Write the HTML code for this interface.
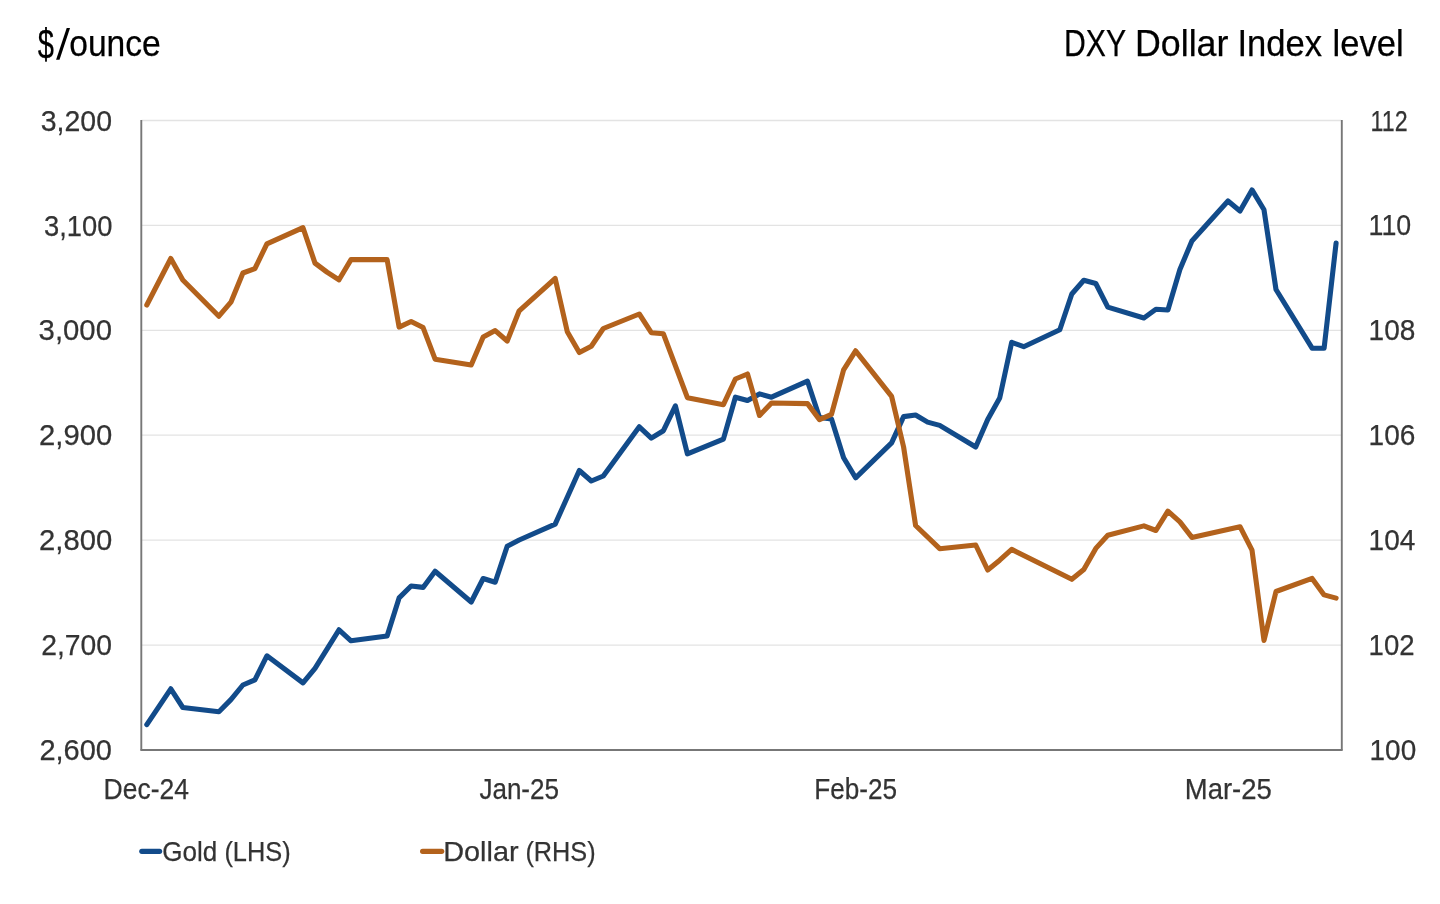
<!DOCTYPE html>
<html><head><meta charset="utf-8"><title>Gold vs Dollar</title>
<style>html,body{margin:0;padding:0;background:#fff;}body{width:1440px;height:904px;overflow:hidden;font-family:"Liberation Sans",sans-serif;}svg{display:block;will-change:transform;}</style>
</head><body>
<svg width="1440" height="904" viewBox="0 0 1440 904">
<rect width="1440" height="904" fill="#fff"/>
<line x1="141.5" y1="120.5" x2="1341" y2="120.5" stroke="#e3e3e3" stroke-width="1.3"/>
<line x1="141.5" y1="225.4" x2="1341" y2="225.4" stroke="#e3e3e3" stroke-width="1.3"/>
<line x1="141.5" y1="330.3" x2="1341" y2="330.3" stroke="#e3e3e3" stroke-width="1.3"/>
<line x1="141.5" y1="435.2" x2="1341" y2="435.2" stroke="#e3e3e3" stroke-width="1.3"/>
<line x1="141.5" y1="540.2" x2="1341" y2="540.2" stroke="#e3e3e3" stroke-width="1.3"/>
<line x1="141.5" y1="645.1" x2="1341" y2="645.1" stroke="#e3e3e3" stroke-width="1.3"/>
<line x1="141.3" y1="120" x2="141.3" y2="750.5" stroke="#777" stroke-width="1.9"/>
<line x1="1341.8" y1="120" x2="1341.8" y2="750.5" stroke="#777" stroke-width="1.9"/>
<line x1="140.5" y1="750" x2="1342.5" y2="750" stroke="#777" stroke-width="1.9"/>
<polyline fill="none" stroke="#124b8a" stroke-width="5.1" stroke-linejoin="round" stroke-linecap="round" points="146.8,724.6 170.8,688.8 182.8,707.5 218.9,711.7 230.9,699.6 242.9,685.0 254.9,679.8 266.9,655.8 303.0,682.9 315.0,668.3 339.0,629.8 351.0,640.8 387.1,636.0 399.1,597.9 411.1,586.0 423.1,587.4 435.1,571.2 471.2,602.0 483.2,578.5 495.2,582.2 507.2,546.2 519.2,540.0 555.2,524.1 579.3,470.5 591.3,481.0 603.3,476.0 639.3,426.8 651.3,438.1 663.4,430.7 675.4,405.8 687.4,453.9 723.4,439.1 735.4,397.2 747.5,400.5 759.5,393.9 771.5,397.2 807.5,381.2 819.5,417.5 831.5,419.0 843.6,457.8 855.6,477.8 891.6,442.9 903.6,416.6 915.6,415.0 927.6,422.1 939.7,425.4 975.7,447.0 987.7,419.6 999.7,398.0 1011.7,342.3 1023.7,346.7 1059.8,329.8 1071.8,294.0 1083.8,280.3 1095.8,283.5 1107.8,307.1 1143.9,318.0 1155.9,309.2 1167.9,310.0 1179.9,269.6 1191.9,241.0 1228.0,201.0 1240.0,211.0 1252.0,189.9 1264.0,209.8 1276.0,289.5 1312.1,348.2 1324.1,348.2 1336.1,243.0"/>
<polyline fill="none" stroke="#b3621c" stroke-width="5.1" stroke-linejoin="round" stroke-linecap="round" points="146.8,305.0 170.8,258.5 182.8,280.0 218.9,316.2 230.9,302.2 242.9,273.0 254.9,268.7 266.9,243.8 303.0,227.7 315.0,263.1 327.0,272.1 339.0,279.8 351.0,259.6 387.1,259.6 399.1,327.1 411.1,321.5 423.1,327.6 435.1,359.2 471.2,365.0 483.2,336.9 495.2,330.6 507.2,341.0 519.2,310.8 555.2,278.5 567.3,331.7 579.3,352.5 591.3,346.2 603.3,328.5 639.3,314.0 651.3,332.7 663.4,333.8 687.4,397.7 723.4,404.7 735.4,379.0 747.5,374.0 759.5,415.5 771.5,403.0 807.5,403.6 819.5,419.6 831.5,414.3 843.6,369.9 855.6,350.8 891.6,396.4 903.6,447.0 915.6,525.5 939.7,548.7 975.7,545.0 987.7,570.0 999.7,560.2 1011.7,549.4 1071.8,579.3 1083.8,569.5 1095.8,548.4 1107.8,535.2 1143.9,525.9 1155.9,530.5 1167.9,511.2 1179.9,521.9 1191.9,537.4 1240.0,526.7 1252.0,550.2 1264.0,640.4 1276.0,591.5 1312.1,578.4 1324.1,594.9 1336.1,598.1"/>
<line x1="141.8" y1="851.3" x2="159.6" y2="851.3" stroke="#124b8a" stroke-width="5.2" stroke-linecap="round"/>
<polygon points="56.1,59.7 59.5,59.7 70.05,28 66.7,28" fill="#000"/>
<line x1="422.6" y1="851.3" x2="441.7" y2="851.3" stroke="#b3621c" stroke-width="5.2" stroke-linecap="round"/>
<text x="37.80" y="58.8" font-family="Liberation Sans, sans-serif" font-size="43.2" fill="#000" stroke="#000" stroke-width="0.25" textLength="16.20" lengthAdjust="spacingAndGlyphs">$</text>
<text x="69.20" y="55.6" font-family="Liberation Sans, sans-serif" font-size="37" fill="#000" stroke="#000" stroke-width="0.25" textLength="91.60" lengthAdjust="spacingAndGlyphs">ounce</text>
<text x="1064.00" y="55.6" font-family="Liberation Sans, sans-serif" font-size="36.5" fill="#000" stroke="#000" stroke-width="0.25" textLength="62.00" lengthAdjust="spacingAndGlyphs">DXY</text>
<text x="1135.00" y="55.6" font-family="Liberation Sans, sans-serif" font-size="36.5" fill="#000" stroke="#000" stroke-width="0.25" textLength="93.40" lengthAdjust="spacingAndGlyphs">Dollar</text>
<text x="1237.40" y="55.6" font-family="Liberation Sans, sans-serif" font-size="36.5" fill="#000" stroke="#000" stroke-width="0.25" textLength="84.60" lengthAdjust="spacingAndGlyphs">Index</text>
<text x="1332.60" y="55.6" font-family="Liberation Sans, sans-serif" font-size="36.5" fill="#000" stroke="#000" stroke-width="0.25" textLength="71.00" lengthAdjust="spacingAndGlyphs">level</text>
<text x="40.80" y="131.0" font-family="Liberation Sans, sans-serif" font-size="29.5" fill="#333" stroke="#333" stroke-width="0.25" textLength="71.20" lengthAdjust="spacingAndGlyphs">3,200</text>
<text x="44.00" y="235.7" font-family="Liberation Sans, sans-serif" font-size="29.5" fill="#333" stroke="#333" stroke-width="0.25" textLength="68.40" lengthAdjust="spacingAndGlyphs">3,100</text>
<text x="38.60" y="340.1" font-family="Liberation Sans, sans-serif" font-size="29.5" fill="#333" stroke="#333" stroke-width="0.25" textLength="73.40" lengthAdjust="spacingAndGlyphs">3,000</text>
<text x="39.00" y="445.1" font-family="Liberation Sans, sans-serif" font-size="29.5" fill="#333" stroke="#333" stroke-width="0.25" textLength="73.20" lengthAdjust="spacingAndGlyphs">2,900</text>
<text x="39.00" y="550.0" font-family="Liberation Sans, sans-serif" font-size="29.5" fill="#333" stroke="#333" stroke-width="0.25" textLength="73.20" lengthAdjust="spacingAndGlyphs">2,800</text>
<text x="41.20" y="654.8" font-family="Liberation Sans, sans-serif" font-size="29.5" fill="#333" stroke="#333" stroke-width="0.25" textLength="70.80" lengthAdjust="spacingAndGlyphs">2,700</text>
<text x="39.40" y="759.8" font-family="Liberation Sans, sans-serif" font-size="29.5" fill="#333" stroke="#333" stroke-width="0.25" textLength="72.60" lengthAdjust="spacingAndGlyphs">2,600</text>
<text x="1370.60" y="130.7" font-family="Liberation Sans, sans-serif" font-size="29.5" fill="#333" stroke="#333" stroke-width="0.25" textLength="37.00" lengthAdjust="spacingAndGlyphs">112</text>
<text x="1368.60" y="235.4" font-family="Liberation Sans, sans-serif" font-size="29.5" fill="#333" stroke="#333" stroke-width="0.25" textLength="42.60" lengthAdjust="spacingAndGlyphs">110</text>
<text x="1368.60" y="340.2" font-family="Liberation Sans, sans-serif" font-size="29.5" fill="#333" stroke="#333" stroke-width="0.25" textLength="46.80" lengthAdjust="spacingAndGlyphs">108</text>
<text x="1368.60" y="445.1" font-family="Liberation Sans, sans-serif" font-size="29.5" fill="#333" stroke="#333" stroke-width="0.25" textLength="46.80" lengthAdjust="spacingAndGlyphs">106</text>
<text x="1368.60" y="550.0" font-family="Liberation Sans, sans-serif" font-size="29.5" fill="#333" stroke="#333" stroke-width="0.25" textLength="46.80" lengthAdjust="spacingAndGlyphs">104</text>
<text x="1368.60" y="654.9" font-family="Liberation Sans, sans-serif" font-size="29.5" fill="#333" stroke="#333" stroke-width="0.25" textLength="46.00" lengthAdjust="spacingAndGlyphs">102</text>
<text x="1369.60" y="759.8" font-family="Liberation Sans, sans-serif" font-size="29.5" fill="#333" stroke="#333" stroke-width="0.25" textLength="46.60" lengthAdjust="spacingAndGlyphs">100</text>
<text x="103.60" y="799.4" font-family="Liberation Sans, sans-serif" font-size="30" fill="#333" stroke="#333" stroke-width="0.25" textLength="85.40" lengthAdjust="spacingAndGlyphs">Dec-24</text>
<text x="479.40" y="799.4" font-family="Liberation Sans, sans-serif" font-size="30" fill="#333" stroke="#333" stroke-width="0.25" textLength="79.60" lengthAdjust="spacingAndGlyphs">Jan-25</text>
<text x="814.20" y="799.4" font-family="Liberation Sans, sans-serif" font-size="30" fill="#333" stroke="#333" stroke-width="0.25" textLength="82.80" lengthAdjust="spacingAndGlyphs">Feb-25</text>
<text x="1184.80" y="799.4" font-family="Liberation Sans, sans-serif" font-size="30" fill="#333" stroke="#333" stroke-width="0.25" textLength="87.00" lengthAdjust="spacingAndGlyphs">Mar-25</text>
<text x="162.20" y="860.6" font-family="Liberation Sans, sans-serif" font-size="28.5" fill="#333" stroke="#333" stroke-width="0.25" textLength="55.00" lengthAdjust="spacingAndGlyphs">Gold</text>
<text x="224.40" y="860.6" font-family="Liberation Sans, sans-serif" font-size="28.5" fill="#333" stroke="#333" stroke-width="0.25" textLength="66.20" lengthAdjust="spacingAndGlyphs">(LHS)</text>
<text x="443.20" y="860.6" font-family="Liberation Sans, sans-serif" font-size="28.5" fill="#333" stroke="#333" stroke-width="0.25" textLength="75.40" lengthAdjust="spacingAndGlyphs">Dollar</text>
<text x="525.40" y="860.6" font-family="Liberation Sans, sans-serif" font-size="28.5" fill="#333" stroke="#333" stroke-width="0.25" textLength="70.20" lengthAdjust="spacingAndGlyphs">(RHS)</text>
</svg>
</body></html>
